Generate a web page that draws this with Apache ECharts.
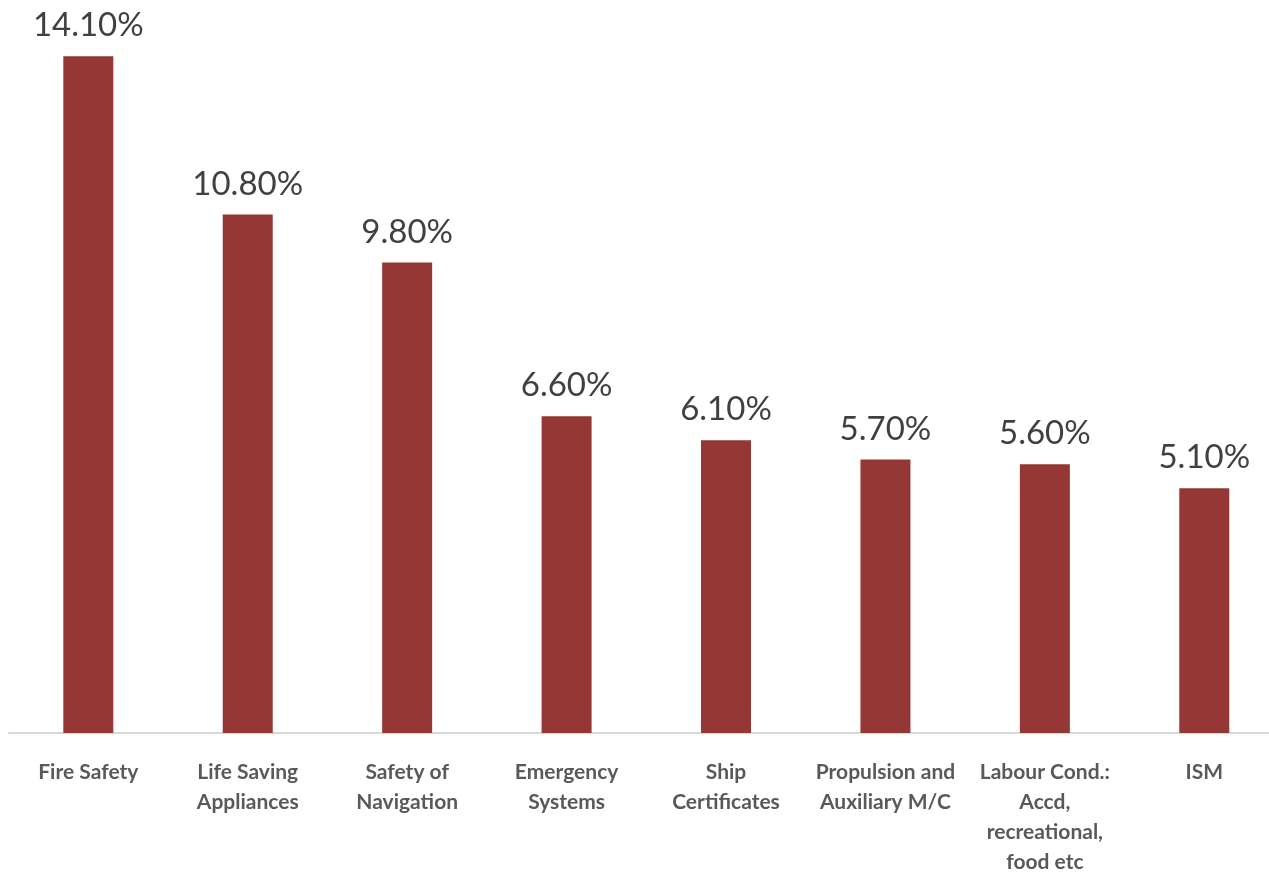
<!DOCTYPE html>
<html>
<head>
<meta charset="utf-8">
<script src="https://cdn.jsdelivr.net/npm/echarts@6/dist/echarts.min.js"></script>
<style>
    html, body { margin: 0; padding: 0; background: #fff; }
    #deficiency-chart { width: 1269px; height: 873px; }
</style>
</head>
<body>
<div id="deficiency-chart"></div>
<script>
    // categories (line breaks as in the picture)
    const categories = [
        'Fire Safety',
        'Life Saving\nAppliances',
        'Safety of\nNavigation',
        'Emergency\nSystems',
        'Ship\nCertificates',
        'Propulsion and\nAuxiliary M/C',
        'Labour Cond.:\nAccd,\nrecreational,\nfood etc',
        'ISM'
    ]
    // share of deficiencies, percent
    const shares = [14.1, 10.8, 9.8, 6.6, 6.1, 5.7, 5.6, 5.1]

    let chart = echarts.init(document.getElementById('deficiency-chart'))
    let options = {
        animation: false,
        grid: {
            left: 8.6,
            right: -15,
            top: 13,
            bottom: 140,
            containLabel: false,
            outerBoundsMode: 'none'
        },
        xAxis: {
            type: 'category',
            data: categories,
            axisTick: { show: false },
            axisLine: {
                lineStyle: { color: '#d9d9d9', width: 2 }
            },
            axisLabel: {
                interval: 0,
                margin: 24,
                color: '#595959',
                fontFamily: 'Lato',
                fontWeight: 'bold',
                fontSize: 21,
                lineHeight: 30
            }
        },
        yAxis: {
            type: 'value',
            min: 0,
            max: 15,
            show: false,
            splitLine: { show: false }
        },
        series: [
            {
                type: 'bar',
                data: shares,
                barWidth: 50,
                itemStyle: { color: '#953735' },
                label: {
                    show: true,
                    position: 'top',
                    distance: 14,
                    color: '#404040',
                    fontFamily: 'Lato',
                    fontSize: 33,
                    formatter: (p) => p.value.toFixed(2) + '%'
                }
            }
        ]
    }
    chart.setOption(options)
</script>
</body>
</html>
